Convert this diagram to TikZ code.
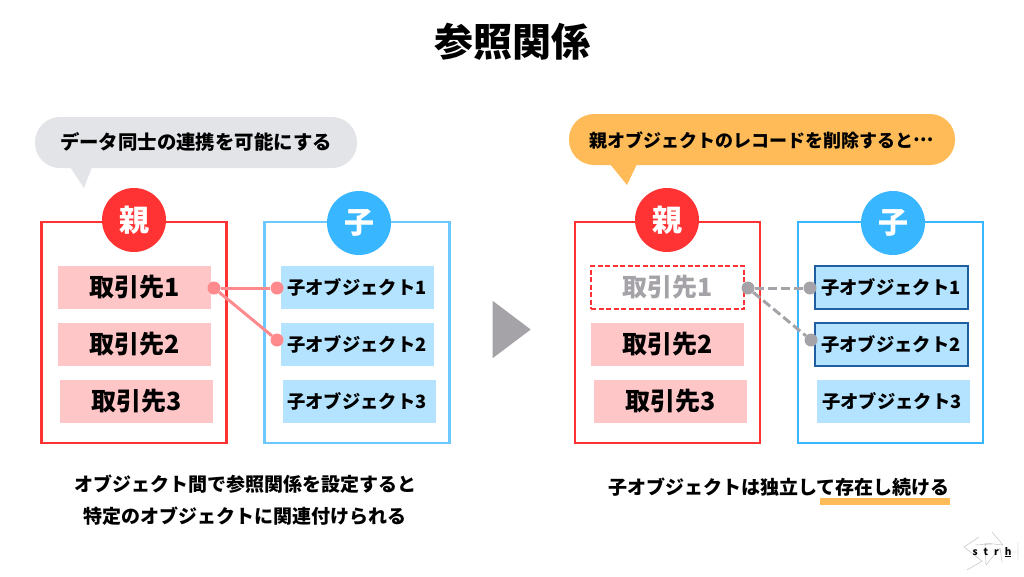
\documentclass[tikz,border=0pt]{standalone}
\usepackage{fontspec}
\setmainfont{Noto Sans CJK JP}
\usetikzlibrary{shapes.geometric}
\definecolor{redline}{HTML}{FF3333}
\definecolor{blueline}{HTML}{38B6FF}
\definecolor{framesky}{HTML}{6CC8FF}
\definecolor{redfill}{HTML}{FFC6C8}
\definecolor{bluefill}{HTML}{B3E3FF}
\definecolor{linkred}{HTML}{FF8A8E}
\definecolor{linkgray}{HTML}{A5A3A8}
\definecolor{bubblegray}{HTML}{E3E4E8}
\definecolor{bubbleorange}{HTML}{FFBB58}
\definecolor{darkblue}{HTML}{1F5F9F}
\tikzset{
  frame/.style={draw,line width=2.4pt,minimum width=185pt,minimum height=221pt,inner sep=0pt},
  badge/.style={circle,minimum size=64pt,inner sep=0pt,text=white,font=\fontsize{30}{30}\selectfont\bfseries},
  parentbox/.style={fill=redfill,minimum width=153pt,minimum height=43pt,inner sep=0pt,font=\fontsize{25}{25}\selectfont\bfseries},
  childbox/.style={fill=bluefill,minimum width=153pt,minimum height=43pt,inner sep=0pt,font=\fontsize{18.3}{18.3}\selectfont\bfseries},
  keptbox/.style={childbox,draw=darkblue,line width=2pt},
  gonebox/.style={parentbox,fill=white,draw=redline,dash pattern=on 5pt off 2.5pt,line width=2pt,text=linkgray},
  dot/.style={circle,minimum size=13pt,inner sep=0pt},
  caption/.style={inner sep=0pt,align=center,font=\fontsize{19}{32}\selectfont\bfseries},
  bubbletext/.style={inner sep=0pt,font=\fontsize{19.4}{19.4}\selectfont\bfseries}
}
\begin{document}
\begin{tikzpicture}[x=1pt,y=-1pt]
    \useasboundingbox (0,0) rectangle (1024,576);
    \node (title) at (512,42) [inner sep=0pt,font=\fontsize{39}{39}\selectfont\bfseries] {参照関係};
    % left side
    \fill[bubblegray,rounded corners=25pt] (35,117) rectangle (357,168);
    \fill[bubblegray] (70,167) -- (84,188) -- (92,167) -- cycle;
    \node[bubbletext] (talkL) at (196,142) {データ同士の連携を可能にする};
    \node[frame,draw=redline] (parentL) at (134,332.5) {};
    \node[frame,draw=framesky] (childL) at (357,332.5) {};
    \node[badge,fill=redline] (oyaL) at (134,220) {親};
    \node[badge,fill=blueline] (koL) at (359,223) {子};
    \node[parentbox] (p1L) at (134.5,287.5) {取引先1};
    \node[parentbox] (p2L) at (134.5,344.5) {取引先2};
    \node[parentbox] (p3L) at (136.5,401.5) {取引先3};
    \node[childbox] (c1L) at (357,287.5) {子オブジェクト1};
    \node[childbox] (c2L) at (357,344.5) {子オブジェクト2};
    \node[childbox] (c3L) at (359.5,401.5) {子オブジェクト3\hspace*{5pt}};
    \node[dot,fill=linkred] (a0) at (214,288) {};
    \node[dot,fill=linkred] (a1) at (277,288) {};
    \node[dot,fill=linkred] (a2) at (277,340) {};
    \draw[linkred,line width=3pt] (a0) -- (a1);
    \draw[linkred,line width=3pt] (a0) -- (a2);
    \node[caption] (noteL) at (245,500) {オブジェクト間で参照関係を設定すると\\特定のオブジェクトに関連付けられる};
    % arrow between
    \node[fill=linkgray,isosceles triangle,isosceles triangle apex angle=74,minimum height=38pt,minimum width=57pt,inner sep=0pt] (next) at (507,329.5) {};
    % right side
    \fill[bubbleorange,rounded corners=25pt] (569,114) rectangle (955,165);
    \fill[bubbleorange] (610,164) -- (627,185) -- (637,164) -- cycle;
    \node[bubbletext,font=\fontsize{18}{18}\selectfont\bfseries] (talkR) at (762,140) {親オブジェクトのレコードを削除すると\raisebox{.33em}{…}};
    \node[frame,draw=redline] (parentR) at (667.5,332.5) {};
    \node[frame,draw=blueline] (childR) at (890.5,332.5) {};
    \node[badge,fill=redline] (oyaR) at (667,220) {親};
    \node[badge,fill=blueline] (koR) at (893,223) {子};
    \node[gonebox] (p1R) at (667.5,287.5) {取引先1};
    \node[parentbox] (p2R) at (667.5,344.5) {取引先2};
    \node[parentbox] (p3R) at (670.5,401.5) {取引先3};
    \node[keptbox,minimum width=153pt,minimum height=43pt] (c1R) at (891,287.5) {子オブジェクト1};
    \node[keptbox,minimum width=153pt,minimum height=43pt] (c2R) at (891,344.5) {子オブジェクト2};
    \node[childbox] (c3R) at (893,401.5) {子オブジェクト3\hspace*{2pt}};
    \node[dot,fill=linkgray] (b0) at (748,288) {};
    \node[dot,fill=linkgray] (b1) at (810,288) {};
    \node[dot,fill=linkgray] (b2) at (811,340) {};
    \draw[linkgray,line width=3pt,dash pattern=on 9pt off 4pt] (b0) -- (b1);
    \draw[linkgray,line width=3pt,dash pattern=on 9pt off 4pt] (b0) -- (b2);
    \fill[bubbleorange] (820,498) rectangle (950,505);
    \node[caption] (noteR) at (779,487) {子オブジェクトは独立して存在し続ける};
    % logo
    \draw[gray!55,line width=.4pt] (979,537) -- (964,547) -- (982,561) -- (967,570);
    \draw[gray!55,line width=.4pt] (992,532) -- (1003,545) -- (985,543) -- (986,565) -- (1000,548) -- (1002,562);
    \draw[gray!55,line width=.4pt] (975,545) -- (992,544) (1008,552) -- (1018,552) (1018,542) -- (1018,560);
    \node[inner sep=0pt,font=\fontsize{10}{10}\selectfont\bfseries] (logo) at (992,552) {s\hspace{6pt}t\hspace{6pt}r\hspace{6pt}\underline{h}};
\end{tikzpicture}
\end{document}
